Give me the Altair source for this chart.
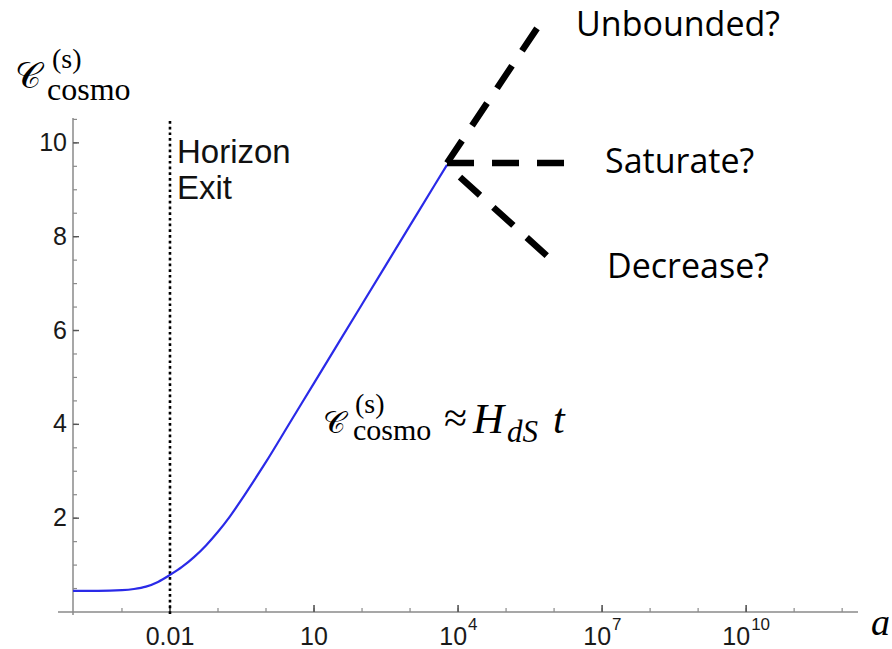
import altair as alt
import pandas as pd

# plot area size in pixels
W, H = 785, 494

# complexity curve: exponent of the scale factor (a = 10**e) and complexity
curve_exp = [-4.02, -3.5, -3.0, -2.75, -2.5, -2.25, -2.0, -1.75, -1.5, -1.25,
             -1.0, -0.75, -0.5, -0.25, 0.0, 0.5, 1.0, 1.5, 2.0, 2.5, 3.0, 3.5, 3.77]
curve_c = [0.45, 0.45, 0.465, 0.49, 0.54, 0.64, 0.79, 0.96, 1.17, 1.42,
           1.71, 2.04, 2.41, 2.80, 3.20, 4.04, 4.88, 5.72, 6.56, 7.40, 8.24, 9.08, 9.53]

# speculative late-time branches leaving the end of the curve
branch_name = ["up", "up", "flat", "flat", "down", "down"]
branch_exp = [3.77, 5.65, 3.77, 6.31, 4.04, 5.875]
branch_c = [9.57, 12.45, 9.57, 9.57, 9.27, 7.57]

# horizon exit marker
horizon_exit = [0.01]

# axis ticks and labels
x_label_pos = [0.01, 10, 1e4, 1e7, 1e10]
x_label_base = ["0.01", "10", "10", "10", "10"]
x_label_exp = ["", "", "4", "7", "10"]
x_decade_exp = [-3, -2, -1, 0, 1, 2, 3, 4, 5, 6, 7, 8, 9, 10, 11, 12]
y_label_vals = [2, 4, 6, 8, 10]
y_minor_vals = [0.5, 1.0, 1.5, 2.0, 2.5, 3.0, 3.5, 4.0, 4.5, 5.0, 5.5,
                6.0, 6.5, 7.0, 7.5, 8.0, 8.5, 9.0, 9.5, 10.0, 10.5]

xs = alt.Scale(type="log", domain=[10 ** -4.02, 10 ** 12.33], nice=False)
ys = alt.Scale(domain=[0, 10.53], nice=False, zero=False)

AXIS_GRAY = "#8a8a8a"
SANS = "Liberation Sans"
SERIF = "Liberation Serif"
CALLOUT = "Open Sans"
SCRIPT_C = "\U0001D49E"


def X(field):
    return alt.X(field, type="quantitative", scale=xs, axis=None)


def Y(field):
    return alt.Y(field, type="quantitative", scale=ys, axis=None)


def label(text, x, y, size, font, style="normal", align="left",
          baseline="alphabetic", color="black"):
    return alt.Chart(pd.DataFrame({"t": [text]})).mark_text(
        align=align, baseline=baseline, fontSize=size, font=font,
        fontStyle=style, color=color
    ).encode(x=alt.value(x), y=alt.value(y), text="t:N")


curve_df = pd.DataFrame({"a": [10 ** e for e in curve_exp], "c": curve_c})
branch_df = pd.DataFrame({"branch": branch_name,
                          "a": [10 ** e for e in branch_exp],
                          "c": branch_c})
decade_df = pd.DataFrame({"a": [10 ** e for e in x_decade_exp]})
xlab_df = pd.DataFrame({"a": x_label_pos, "base": x_label_base, "exp": x_label_exp})
ymin_df = pd.DataFrame({"c": y_minor_vals})
ylab_df = pd.DataFrame({"c": y_label_vals, "lab": [str(v) for v in y_label_vals]})
one = pd.DataFrame({"k": [0]})

# axes drawn as rules, ticks pointing inward
x_axis = alt.Chart(one).mark_rule(color=AXIS_GRAY, strokeWidth=1.5).encode(
    x=alt.value(-15), x2=alt.value(W), y=alt.value(H))
y_axis = alt.Chart(one).mark_rule(color=AXIS_GRAY, strokeWidth=1.5).encode(
    x=alt.value(0), y=alt.value(0), y2=alt.value(H + 3))

x_minor = alt.Chart(decade_df).mark_rule(color=AXIS_GRAY, strokeWidth=1.2).encode(
    x=X("a"), y=alt.value(H), y2=alt.value(H - 4))
x_major = alt.Chart(xlab_df).mark_rule(color="#555555", strokeWidth=1.6).encode(
    x=X("a"), y=alt.value(H), y2=alt.value(H - 7))
y_minor = alt.Chart(ymin_df).mark_rule(color=AXIS_GRAY, strokeWidth=1.2).encode(
    x=alt.value(0), x2=alt.value(4), y=Y("c"))
y_major = alt.Chart(ylab_df).mark_rule(color="#555555", strokeWidth=1.4).encode(
    x=alt.value(0), x2=alt.value(6), y=Y("c"))

y_labels = alt.Chart(ylab_df).mark_text(
    align="right", baseline="middle", fontSize=25, font=SANS, color="#1a1a1a"
).encode(x=alt.value(-6), y=Y("c"), text="lab:N")

x_plain = alt.Chart(xlab_df).transform_filter("datum.exp == ''").mark_text(
    align="center", baseline="top", fontSize=25, font=SANS, color="#1a1a1a"
).encode(x=X("a"), y=alt.value(H + 13), text="base:N")
x_pow1_base = alt.Chart(xlab_df).transform_filter("length(datum.exp) == 1").mark_text(
    align="right", baseline="top", fontSize=25, font=SANS, color="#1a1a1a", dx=9
).encode(x=X("a"), y=alt.value(H + 13), text="base:N")
x_pow1_exp = alt.Chart(xlab_df).transform_filter("length(datum.exp) == 1").mark_text(
    align="left", baseline="top", fontSize=17, font=SANS, color="#1a1a1a", dx=10
).encode(x=X("a"), y=alt.value(H + 5), text="exp:N")
x_pow2_base = alt.Chart(xlab_df).transform_filter("length(datum.exp) == 2").mark_text(
    align="right", baseline="top", fontSize=25, font=SANS, color="#1a1a1a", dx=4
).encode(x=X("a"), y=alt.value(H + 13), text="base:N")
x_pow2_exp = alt.Chart(xlab_df).transform_filter("length(datum.exp) == 2").mark_text(
    align="left", baseline="top", fontSize=17, font=SANS, color="#1a1a1a", dx=5
).encode(x=X("a"), y=alt.value(H + 5), text="exp:N")

# dotted horizon-exit line
exit_line = alt.Chart(pd.DataFrame({"a": horizon_exit})).mark_rule(
    color="black", strokeWidth=2.6, strokeDash=[2.7, 3]
).encode(x=X("a"), y=alt.value(3), y2=alt.value(H + 3))

curve = alt.Chart(curve_df).mark_line(
    color="#2a2ae8", strokeWidth=2.2, interpolate="monotone"
).encode(x=X("a"), y=Y("c"))

branches = alt.Chart(branch_df).mark_line(
    color="black", strokeWidth=6.5, strokeDash=[27, 18], strokeCap="butt"
).encode(x=X("a"), y=Y("c"), detail="branch:N")

texts = [
    label("Horizon", 104, 45, 33, SANS, color="#111111"),
    label("Exit", 104, 81, 33, SANS, color="#111111"),
    label("Unbounded?", 503, -82, 34, CALLOUT),
    label("Saturate?", 532, 55, 34, CALLOUT),
    label("Decrease?", 534, 160, 34, CALLOUT),
    label("a", 798, 517, 38, SERIF, style="italic"),
    # vertical axis title
    label(SCRIPT_C, -58, -30, 36, SERIF),
    label("(s)", -21, -50, 28, SERIF),
    label("cosmo", -26, -18, 32, SERIF),
    # late-time relation
    label(SCRIPT_C, 250, 315, 31, SERIF),
    label("(s)", 282, 295, 28, SERIF),
    label("cosmo", 280, 322, 30, SERIF),
    label("\u2248", 371, 314, 42, SERIF),
    label("H", 400, 315, 43, SERIF, style="italic"),
    label("dS", 434, 324, 31, SERIF, style="italic"),
    label("t", 480, 315, 42, SERIF, style="italic"),
]

chart = alt.layer(
    x_axis, y_axis, x_minor, x_major, y_minor, y_major,
    y_labels, x_plain, x_pow1_base, x_pow1_exp, x_pow2_base, x_pow2_exp,
    exit_line, curve, branches, *texts
).properties(
    width=W, height=H,
    padding={"left": 73, "top": 118, "right": 34, "bottom": 37},
    autosize=alt.AutoSizeParams(type="none"),
    background="white",
).configure_view(stroke=None)

chart.save("out.html", embed_options={"renderer": "svg", "actions": False})
